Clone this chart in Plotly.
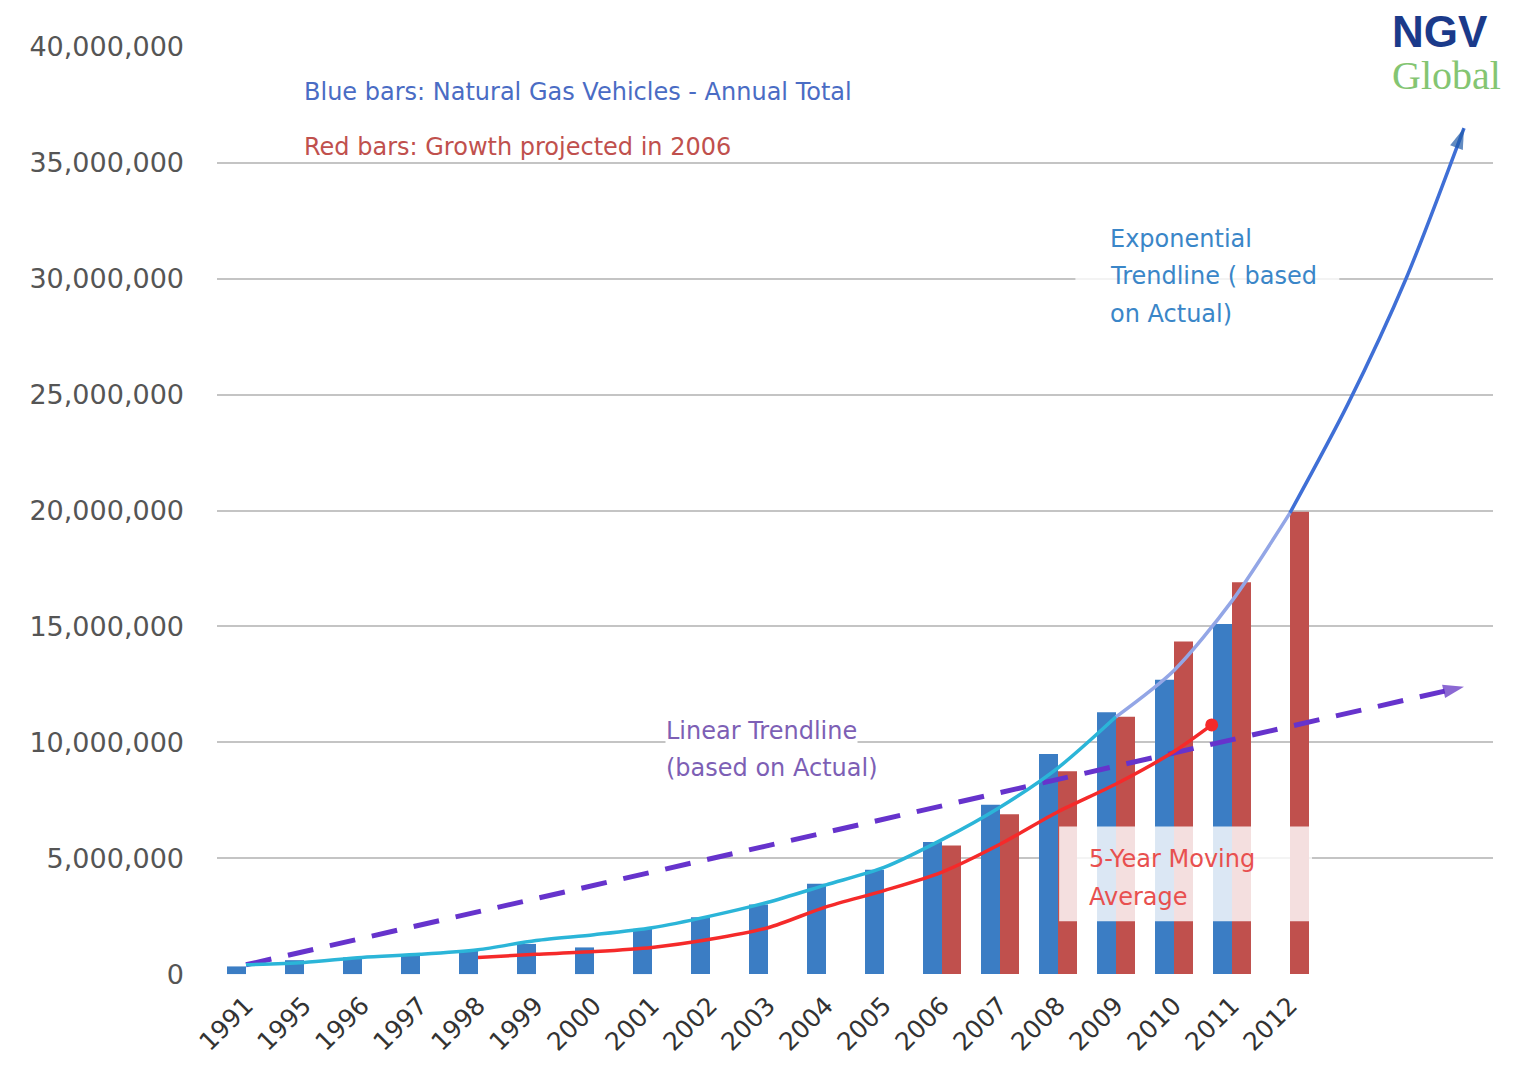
import plotly.graph_objects as go

# ---------------- data ----------------
years = ["1991", "1995", "1996", "1997", "1998", "1999", "2000", "2001", "2002",
         "2003", "2004", "2005", "2006", "2007", "2008", "2009", "2010", "2011", "2012"]

# Blue bars: actual NGV annual totals (1991 .. 2011)
blue_years = years[:18]
blue_vals = [330000, 600000, 720000, 800000, 1000000, 1300000, 1150000, 1950000, 2450000,
             3000000, 3900000, 4500000, 5700000, 7300000, 9500000, 11300000, 12700000, 15100000]

# Red bars: growth projected in 2006 (2006 .. 2012)
red_years = years[12:]
red_vals = [5550000, 6900000, 8750000, 11100000, 14350000, 16900000, 19950000]

# Exponential trendline (category positions 0..21, last three are forecast periods)
exp_pos = list(range(22))
exp_vals = [400000, 500000, 720000, 850000, 1050000, 1450000, 1700000, 2000000, 2500000,
            3100000, 3850000, 4600000, 5800000, 7200000, 8900000, 11100000, 13100000,
            16100000, 19900000, 24600000, 30000000, 36500000]

# 5-year moving average (red line)
ma_pos = [4, 5, 6, 7, 8, 9, 10, 11, 12, 13, 14, 15, 16, 16.65]
ma_vals = [720000, 850000, 970000, 1150000, 1500000, 2000000, 2900000, 3600000, 4400000,
           5600000, 7000000, 8200000, 9600000, 10750000]

# Linear trendline (straight, two end points)
lin_pos = [0, 21]
lin_vals = [400000, 12400000]

y_ticks = [0, 5000000, 10000000, 15000000, 20000000, 25000000, 30000000, 35000000, 40000000]

# ---------------- styling ----------------
BLUE = "#3b7dc4"
RED = "#c0504d"
FONT = "DejaVu Sans"

pos = {y: i for i, y in enumerate(years)}
blue_x = [pos[y] for y in blue_years]
red_x = [pos[y] for y in red_years]

fig = go.Figure()

fig.add_trace(go.Bar(x=blue_x, y=blue_vals, marker_color=BLUE, marker_line_width=0,
                     name="Actual"))
fig.add_trace(go.Bar(x=red_x, y=red_vals, marker_color=RED, marker_line_width=0,
                     name="Projected"))

# linear trendline (dashed purple with arrow)
fig.add_trace(go.Scatter(
    x=lin_pos, y=lin_vals, mode="lines+markers",
    line=dict(color="#6633cc", width=5, dash="26px,17px"),
    marker=dict(symbol=["circle", "arrow"], size=[0, 22], color="#5a28c0",
                angleref="previous", line_width=0),
    showlegend=False))

# exponential trendline in three colour segments
segs = [(0, 16, "#2bb5d8"), (15, 19, "#93a6e6"), (18, 22, "#3f6fd6")]
for a, b, c in segs:
    fig.add_trace(go.Scatter(
        x=exp_pos[a:b], y=exp_vals[a:b], mode="lines",
        line=dict(color=c, width=3.5, shape="spline", smoothing=0.8),
        showlegend=False))
fig.add_trace(go.Scatter(
    x=exp_pos[-2:], y=exp_vals[-2:], mode="markers",
    marker=dict(symbol=["circle", "arrow"], size=[0, 22], color="#1f5aa6",
                angleref="previous", line_width=0),
    showlegend=False))

# moving average (red)
fig.add_trace(go.Scatter(
    x=ma_pos, y=ma_vals, mode="lines",
    line=dict(color="#f52a2a", width=3.5, shape="spline", smoothing=0.8),
    showlegend=False))
fig.add_trace(go.Scatter(
    x=ma_pos[-1:], y=ma_vals[-1:], mode="markers",
    marker=dict(symbol="circle", size=13, color="#f52a2a"),
    showlegend=False))

# semi-transparent white box behind "5-Year Moving Average"
fig.add_shape(type="rect", xref="x", yref="y", x0=14.02, x1=18.38, y0=2280000, y1=6370000,
              fillcolor="rgba(255,255,255,0.82)", line_width=0, layer="above")
# text box behind the exponential note
fig.add_shape(type="rect", xref="x", yref="y", x0=14.3, x1=18.85, y0=27700000, y1=32600000,
              fillcolor="rgba(255,255,255,0.8)", line_width=0, layer="above")
# white background of the logo (hides the end of the top gridline)
fig.add_shape(type="rect", xref="paper", yref="paper", x0=0.9185, x1=1.0, y0=0.96, y1=1.01,
              fillcolor="white", line_width=0, layer="above")

ann = []
def txt(x, y, s, color, size=24, family=FONT, xanchor="left", yanchor="middle", bg=None,
        ref="data", weight="normal"):
    d = dict(x=x, y=y, text=s, showarrow=False,
             xanchor=xanchor, yanchor=yanchor, align="left",
             font=dict(family=family, size=size, color=color, weight=weight))
    if ref == "data":
        d["xref"], d["yref"] = "x", "y"
    else:
        d["xref"], d["yref"] = "paper", "paper"
    if bg:
        d["bgcolor"] = bg
        d["borderpad"] = 0
    ann.append(d)

txt(0.97, 38050000, "Blue bars: Natural Gas Vehicles - Annual Total", "#4a6cc4")
txt(0.97, 35690000, "Red bars: Growth projected in 2006", "#c0504d")
txt(14.86, 31730000, "Exponential", "#3a86c8")
txt(14.86, 30100000, "Trendline ( based", "#3a86c8")
txt(14.86, 28460000, "on Actual)", "#3a86c8")
txt(7.22, 10500000, "Linear Trendline", "#7d5fb5", bg="white")
txt(7.22, 8910000, "(based on Actual)", "#7d5fb5", bg="white")
txt(14.5, 4950000, "5-Year Moving", "#e8504f")
txt(14.5, 3320000, "Average", "#e8504f")

# logo: one two-line text block
logo = ("<span style='font-size:44px;font-family:Liberation Sans;font-weight:bold;"
        "color:#1b3a8a'>NGV</span><br>"
        "<span style='font-size:40px;font-family:Liberation Serif;color:#84c572'>Global</span>")
txt(0.9195, 0.9935, logo, "#1b3a8a", size=32, family="Liberation Sans", ref="paper",
    yanchor="middle")

fig.update_layout(
    width=1514, height=1071,
    margin=dict(l=209, r=29, t=38, b=104),
    paper_bgcolor="white", plot_bgcolor="white",
    barmode="group", bargap=0.345, bargroupgap=0,
    showlegend=False,
    annotations=ann,
    font=dict(family=FONT),
)
fig.update_xaxes(
    range=[-0.5, 21.5], tickmode="array", tickvals=[pos[y] for y in years], ticktext=years,
    tickangle=-45, showgrid=False, zeroline=False, showline=False, ticks="",
    ticklabelstandoff=10,
    tickfont=dict(family=FONT, size=25, color="#333333"),
)
fig.update_yaxes(
    range=[-40000, 40040000], tickmode="array", tickvals=y_ticks,
    ticktext=[f"{v:,}" for v in y_ticks],
    showgrid=True, gridcolor="#c4c4c4", gridwidth=2, zeroline=False, showline=False,
    ticks="", ticklabelstandoff=32,
    tickfont=dict(family=FONT, size=27, color="#555555"),
)

fig.write_html("out.html")
